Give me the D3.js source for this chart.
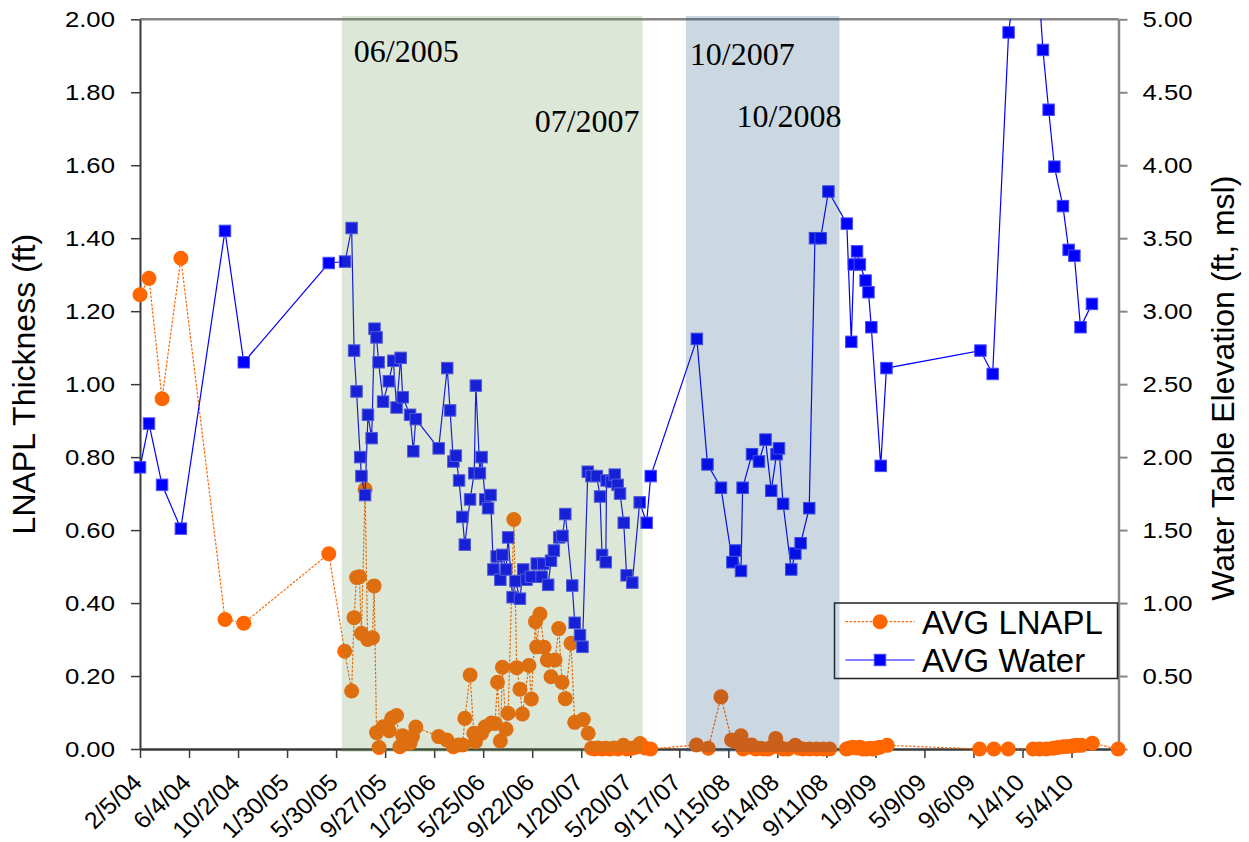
<!DOCTYPE html>
<html>
<head>
<meta charset="utf-8">
<script src="https://cdn.jsdelivr.net/npm/d3@7"></script>
<style>
    body { margin: 0; background: #fff; }
    svg text { font-family: "Liberation Sans", Arial, sans-serif; }
    .note { font-family: "Liberation Serif", "Times New Roman", serif; font-size: 32px; fill: #000; }
</style>
</head>
<body>
<svg id="chart" width="1249" height="842"></svg>
<script>
// sampling days are counted from the first reading on 2/5/04
var startDate = new Date(2004, 1, 5);
var lastDay = 2395;

var lnaplDays = [0, 22, 54, 100, 208, 254, 462, 501, 518, 524,
    530, 537, 542, 551, 557, 569, 573, 579, 585, 595,
    610, 616, 628, 636, 643, 661, 667, 675, 731, 751,
    767, 779, 790, 795, 808, 817, 821, 836, 845, 860,
    869, 875, 882, 887, 896, 901, 915, 922, 930, 936,
    952, 958, 968, 971, 979, 989, 997, 1006, 1016, 1025,
    1033, 1041, 1055, 1064, 1085, 1097, 1105, 1113, 1121, 1131,
    1140, 1150, 1160, 1170, 1183, 1192, 1203, 1214, 1224, 1236,
    1250, 1362, 1391, 1422, 1448, 1458, 1471, 1476, 1488, 1497,
    1507, 1517, 1527, 1537, 1546, 1556, 1566, 1574, 1586, 1604,
    1613, 1623, 1639, 1656, 1672, 1688, 1729, 1737, 1745, 1754,
    1762, 1769, 1778, 1786, 1794, 1803, 1811, 1829, 2055, 2090,
    2125, 2186, 2202, 2219, 2235, 2246, 2259, 2271, 2284, 2293,
    2304, 2331, 2394];

// AVG LNAPL thickness (ft)
var lnaplValues = [1.245, 1.29, 0.96, 1.345, 0.355, 0.345, 0.535, 0.268, 0.159, 0.36,
    0.47, 0.472, 0.317, 0.712, 0.30, 0.305, 0.447, 0.045, 0.004, 0.061,
    0.05, 0.084, 0.092, 0.006, 0.036, 0.016, 0.034, 0.06, 0.034, 0.025,
    0.006, 0.011, 0.011, 0.084, 0.203, 0.043, 0.02, 0.043, 0.061, 0.071,
    0.07, 0.183, 0.022, 0.224, 0.054, 0.098, 0.629, 0.223, 0.164, 0.096,
    0.229, 0.137, 0.349, 0.28, 0.37, 0.279, 0.244, 0.198, 0.244, 0.33,
    0.183, 0.138, 0.29, 0.073, 0.081, 0.043, 0.002, 0, 0.003, 0,
    0.002, 0, 0.003, 0, 0.01, 0, 0.002, 0.005, 0.015, 0.003,
    0, 0.011, 0.002, 0.143, 0.025, 0.02, 0.036, 0, 0.005, 0.011,
    0, 0.002, 0, 0, 0.005, 0.029, 0.005, 0, 0, 0.01,
    0.002, 0, 0, 0, 0, 0, 0, 0.003, 0.005, 0.003,
    0.005, 0, 0, 0.002, 0, 0.003, 0.005, 0.01, 0, 0,
    0, 0, 0, 0, 0.002, 0.004, 0.006, 0.007, 0.009, 0.01,
    0.01, 0.016, 0];

var waterDays = [0, 22, 54, 100, 208, 254, 462, 502, 518, 524,
    530, 539, 542, 551, 558, 567, 574, 579, 584, 595,
    609, 620, 628, 638, 643, 661, 669, 675, 731, 752,
    759, 767, 773, 781, 789, 795, 808, 818, 822, 832,
    836, 845, 852, 858, 865, 873, 882, 887, 896, 901,
    912, 919, 930, 938, 946, 957, 971, 983, 987, 999,
    1006, 1013, 1026, 1034, 1041, 1058, 1064, 1077, 1083, 1096,
    1105, 1118, 1126, 1131, 1140, 1142, 1154, 1162, 1169, 1175,
    1184, 1191, 1205, 1223, 1240, 1250, 1363, 1389, 1422, 1450,
    1457, 1471, 1475, 1498, 1515, 1531, 1545, 1558, 1564, 1574,
    1594, 1604, 1617, 1638, 1652, 1666, 1685, 1730, 1741, 1747,
    1755, 1762, 1776, 1783, 1790, 1813, 1827, 2057, 2087, 2126,
    2180, 2210, 2224, 2238, 2259, 2273, 2287, 2302, 2330];

// AVG water table elevation (ft, msl)
var waterValues = [1.93, 2.23, 1.81, 1.51, 3.55, 2.65, 3.33, 3.34, 3.57, 2.73,
    2.45, 2.00, 1.87, 1.74, 2.29, 2.13, 2.88, 2.82, 2.65, 2.38,
    2.52, 2.66, 2.34, 2.68, 2.41, 2.29, 2.04, 2.26, 2.06, 2.61,
    2.32, 1.97, 2.01, 1.84, 1.59, 1.40, 1.71, 1.89, 2.49, 1.89,
    2.00, 1.71, 1.65, 1.74, 1.23, 1.32, 1.16, 1.33, 1.23, 1.45,
    1.04, 1.15, 1.03, 1.23, 1.16, 1.18, 1.27, 1.18, 1.27, 1.125,
    1.29, 1.36, 1.45, 1.46, 1.61, 1.12, 0.865, 0.78, 0.70, 1.90,
    1.87, 1.87, 1.73, 1.33, 1.28, 1.84, 1.83, 1.88, 1.81, 1.75,
    1.55, 1.19, 1.14, 1.69, 1.55, 1.87, 2.81, 1.95, 1.79, 1.28,
    1.36, 1.22, 1.79, 2.02, 1.97, 2.12, 1.77, 2.02, 2.06, 1.68,
    1.23, 1.34, 1.41, 1.65, 3.50, 3.50, 3.82, 3.60, 2.79, 3.32,
    3.41, 3.32, 3.21, 3.13, 2.89, 1.94, 2.61, 2.73, 2.57, 4.91,
    6.06, 4.79, 4.38, 3.99, 3.72, 3.42, 3.38, 2.89, 3.05];

var dateTicks = ["2/5/04", "6/4/04", "10/2/04", "1/30/05", "5/30/05", "9/27/05", "1/25/06",
    "5/25/06", "9/22/06", "1/20/07", "5/20/07", "9/17/07", "1/15/08", "5/14/08",
    "9/11/08", "1/9/09", "5/9/09", "9/6/09", "1/4/10", "5/4/10"];
var lnaplTicks = [0, 0.2, 0.4, 0.6, 0.8, 1.0, 1.2, 1.4, 1.6, 1.8, 2.0];
var waterTicks = [0, 0.5, 1.0, 1.5, 2.0, 2.5, 3.0, 3.5, 4.0, 4.5, 5.0];

// shaded periods (days after 2/5/04) and their labels
var bandStartDays = [494, 1336];
var bandEndDays = [1230, 1712];
var bandStartLabels = ["06/2005", "10/2007"];
var bandEndLabels = ["07/2007", "10/2008"];

var seriesNames = ["AVG LNAPL", "AVG Water"];

const plotLeft = 140, plotRight = 1118.5, plotTop = 19.3, plotBottom = 749;
const orange = '#ff6600', blue = '#0000ff';

const svg = d3.select('#chart');
const parseTick = d3.timeParse('%-m/%-d/%y');
const fmtTick = d3.timeFormat('%-m/%-d/%y');
const dayToDate = (d) => d3.timeDay.offset(startDate, d);

const x = d3.scaleTime()
    .domain([startDate, dayToDate(lastDay)])
    .range([plotLeft, plotRight]);
const yLeft = d3.scaleLinear().domain([0, 2]).range([plotBottom, plotTop]);
const yRight = d3.scaleLinear().domain([0, 5]).range([plotBottom, plotTop]);

const lnapl = lnaplDays.map((d, i) => ({ date: dayToDate(d), value: lnaplValues[i] }));
const water = waterDays.map((d, i) => ({ date: dayToDate(d), value: waterValues[i] }));

svg.append('clipPath').attr('id', 'clipTop')
    .append('rect')
    .attr('x', 0).attr('y', plotTop)
    .attr('width', 1249).attr('height', 842 - plotTop);

// top border
svg.append('line')
    .attr('x1', plotLeft).attr('x2', plotRight)
    .attr('y1', plotTop).attr('y2', plotTop)
    .attr('stroke', '#868686').attr('stroke-width', 2.5);

// axes
const fontFamily = '"Liberation Sans", Arial, sans-serif';

function styleAxis(g) {
    g.attr('font-size', 22).attr('font-family', fontFamily).attr('color', '#000');
}

const xAxis = svg.append('g')
    .attr('transform', `translate(0, ${plotBottom})`)
    .call(d3.axisBottom(x)
        .tickValues(dateTicks.map(parseTick))
        .tickFormat(fmtTick)
        .tickSize(9)
        .tickSizeOuter(0))
    .call(styleAxis);
xAxis.select('.domain').attr('stroke', '#3a3a3a').attr('stroke-width', 2.5);
xAxis.selectAll('.tick line').attr('stroke', '#3a3a3a').attr('stroke-width', 1.5);
xAxis.selectAll('.tick text')
    .attr('y', null).attr('dy', null)
    .attr('font-size', 23.5)
    .attr('text-anchor', 'end')
    .attr('transform', 'translate(3,35) scale(1.06,1) rotate(-45)');

const leftAxis = svg.append('g')
    .attr('transform', `translate(${plotLeft}, 0)`)
    .call(d3.axisLeft(yLeft)
        .tickValues(lnaplTicks)
        .tickFormat(d3.format('.2f'))
        .tickSize(9)
        .tickSizeOuter(0))
    .call(styleAxis);
leftAxis.select('.domain').attr('stroke', '#3a3a3a').attr('stroke-width', 2);
leftAxis.selectAll('.tick line').attr('stroke', '#3a3a3a').attr('stroke-width', 1.5);
leftAxis.selectAll('.tick text')
    .attr('x', null)
    .attr('transform', 'translate(-25,0) scale(1.17,1)');

const rightAxis = svg.append('g')
    .attr('transform', `translate(${plotRight}, 0)`)
    .call(d3.axisRight(yRight)
        .tickValues(waterTicks)
        .tickFormat(d3.format('.2f'))
        .tickSize(9)
        .tickSizeOuter(0))
    .call(styleAxis);
rightAxis.select('.domain').attr('stroke', '#868686').attr('stroke-width', 2.5);
rightAxis.selectAll('.tick line').attr('stroke', '#868686').attr('stroke-width', 2);
rightAxis.selectAll('.tick text')
    .attr('x', null)
    .attr('transform', 'translate(24,0) scale(1.17,1)');

// axis titles
svg.append('text')
    .attr('transform', `translate(35, ${(plotTop + plotBottom) / 2}) rotate(-90)`)
    .attr('text-anchor', 'middle')
    .attr('font-size', 32)
    .text('LNAPL Thickness (ft)');

svg.append('text')
    .attr('transform', `translate(1234, ${(plotTop + plotBottom) / 2 + 4}) rotate(-90)`)
    .attr('text-anchor', 'middle')
    .attr('font-size', 32)
    .text('Water Table Elevation (ft, msl)');

// LNAPL series
const lnaplLine = d3.line()
    .x((d) => x(d.date))
    .y((d) => yLeft(d.value));

svg.append('path')
    .datum(lnapl)
    .attr('fill', 'none')
    .attr('stroke', orange)
    .attr('stroke-width', 1.2)
    .attr('stroke-dasharray', '2.5,1.5')
    .attr('d', lnaplLine);

svg.append('g')
    .selectAll('circle')
    .data(lnapl)
    .enter()
    .append('circle')
    .attr('cx', (d) => x(d.date))
    .attr('cy', (d) => yLeft(d.value))
    .attr('r', 7.5)
    .attr('fill', orange);

// water series
const waterLine = d3.line()
    .x((d) => x(d.date))
    .y((d) => yRight(d.value));

const waterGroup = svg.append('g').attr('clip-path', 'url(#clipTop)');

waterGroup.append('path')
    .datum(water)
    .attr('fill', 'none')
    .attr('stroke', blue)
    .attr('stroke-width', 1.2)
    .attr('d', waterLine);

waterGroup.selectAll('rect')
    .data(water)
    .enter()
    .append('rect')
    .attr('x', (d) => x(d.date) - 5.75)
    .attr('y', (d) => yRight(d.value) - 5.75)
    .attr('width', 11.5)
    .attr('height', 11.5)
    .attr('fill', blue)
    .attr('stroke', '#4d4dff')
    .attr('stroke-width', 1);

// legend
const legend = svg.append('g').attr('transform', 'translate(834.5, 603)');
legend.append('rect')
    .attr('width', 283).attr('height', 75.5)
    .attr('fill', '#fff').attr('stroke', '#222').attr('stroke-width', 1.5);

const legendRows = legend.selectAll('.row')
    .data(seriesNames)
    .enter()
    .append('g')
    .attr('class', 'row')
    .attr('transform', (d, i) => `translate(0, ${18.7 + i * 38.3})`);

legendRows.append('line')
    .attr('x1', 11).attr('x2', 80)
    .attr('stroke', (d, i) => i === 0 ? orange : blue)
    .attr('stroke-width', 1.2)
    .attr('stroke-dasharray', (d, i) => i === 0 ? '2.5,1.5' : null);

legendRows.filter((d, i) => i === 0)
    .append('circle')
    .attr('cx', 45.5).attr('r', 7.5).attr('fill', orange);

legendRows.filter((d, i) => i === 1)
    .append('rect')
    .attr('x', 45.5 - 5.75).attr('y', -5.75)
    .attr('width', 11.5).attr('height', 11.5)
    .attr('fill', blue).attr('stroke', '#4d4dff').attr('stroke-width', 1);

legendRows.append('text')
    .attr('x', 87.5)
    .attr('y', 11.8)
    .attr('font-size', 33)
    .text((d) => d);

// shaded periods drawn over the data
const bandColors = ['rgba(100,146,73,0.22)', 'rgba(18,77,123,0.22)'];
svg.append('g')
    .selectAll('rect')
    .data(bandStartDays)
    .enter()
    .append('rect')
    .attr('x', (d) => x(dayToDate(d)))
    .attr('y', plotTop - 3.3)
    .attr('width', (d, i) => x(dayToDate(bandEndDays[i])) - x(dayToDate(d)))
    .attr('height', plotBottom - plotTop + 6.3)
    .attr('fill', (d, i) => bandColors[i]);

// period labels
svg.selectAll('.note-start')
    .data(bandStartLabels)
    .enter()
    .append('text')
    .attr('class', 'note')
    .attr('x', (d, i) => x(dayToDate(bandStartDays[i])) + (i === 0 ? 12 : 4))
    .attr('y', (d, i) => i === 0 ? 62.3 : 64.5)
    .text((d) => d);

svg.selectAll('.note-end')
    .data(bandEndLabels)
    .enter()
    .append('text')
    .attr('class', 'note')
    .attr('text-anchor', 'end')
    .attr('x', (d, i) => x(dayToDate(bandEndDays[i])) + (i === 0 ? -3 : 2))
    .attr('y', (d, i) => i === 0 ? 132.3 : 127)
    .text((d) => d);
</script>
</body>
</html>
